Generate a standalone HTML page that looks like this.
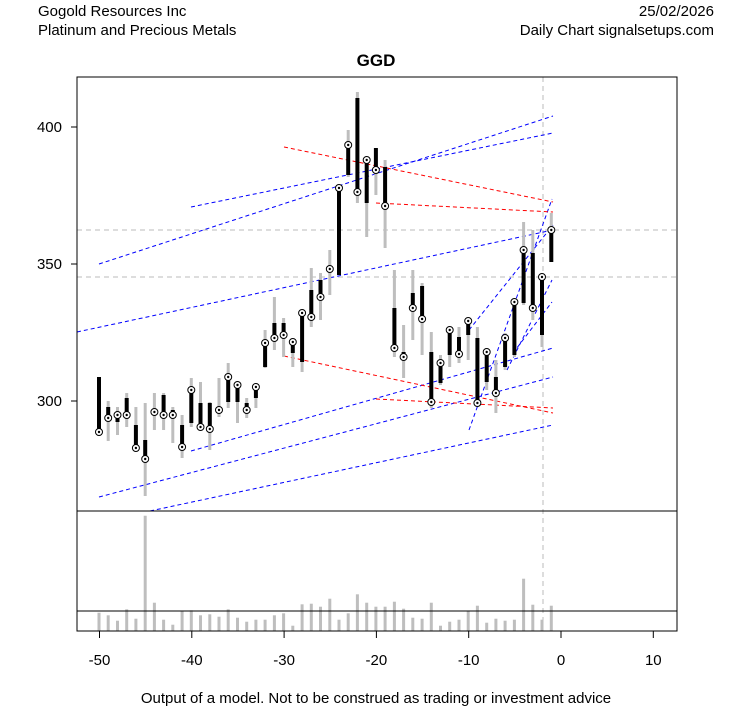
<!DOCTYPE html><html><head><style>body{margin:0;background:#fff}svg{display:block;font-family:"Liberation Sans",sans-serif}</style></head><body>
<svg id="s" width="753" height="708" xmlns="http://www.w3.org/2000/svg">
<rect width="753" height="708" fill="#fff"/>
<text x="38" y="16" font-size="15">Gogold Resources Inc</text>
<text x="38" y="35" font-size="15">Platinum and Precious Metals</text>
<text x="714" y="16" font-size="15" text-anchor="end">25/02/2026</text>
<text x="714" y="35" font-size="15" text-anchor="end">Daily Chart signalsetups.com</text>
<text x="376" y="66" font-size="17" font-weight="bold" text-anchor="middle">GGD</text>
<text x="376" y="703" font-size="15" text-anchor="middle">Output of a model. Not to be construed as trading or investment advice</text>
<g id="g"></g>
</svg>
<script>
var g=document.getElementById('g'),h='';
function L(x1,y1,x2,y2,c,w,d){h+='<line x1="'+x1+'" y1="'+y1+'" x2="'+x2+'" y2="'+y2+'" stroke="'+c+'" stroke-width="'+(w||1)+'"'+(d?' stroke-dasharray="'+d+'"':'')+'/>';}
// grid dashed
L(77,230,677,230,'#bbb',1,'5,4');L(77,277,677,277,'#bbb',1,'5,4');L(543,77,543,631,'#bbb',1,'5,4');
// lines
var B=[[77,332,553,230],[99,264,553,116],[191,207,553,133],[99,497,553,377],[191,451,553,348],[150,511,553,425],[469,430,552,199],[469,330,553,225],[507,370,552,280],[513,353,552,302]];
B.forEach(function(a){L(a[0],a[1],a[2],a[3],'#00f',1,'4,3');});
var R=[[284,147,553,202],[376,203,553,212],[284,356,553,413],[376,399,553,408]];
R.forEach(function(a){L(a[0],a[1],a[2],a[3],'#f00',1,'4,3');});
// candles: bodyTop, bodyBot, wickTop, wickBot, close
var C=[[377,433,377,436,432],[407,418,401,441,418],[413,422,407,435,415],[398,415,393,427,415],[425,448,407,448,448],[440,459,403,496,459],[410,414,393,430,412],[395,415,393,430,415],[410,415,407,443,415],[425,447,415,458,447],[390,423,378,427,390],[403,427,382,427,427],[403,429,402,450,429],[408,412,378,417,410],[377,402,363,408,377],[385,402,383,423,385],[403,410,398,418,410],[387,398,383,408,387],[343,367,330,368,343],[323,338,297,350,338],[323,335,318,357,335],[342,353,342,367,342],[313,362,313,372,313],[290,317,268,327,317],[280,297,273,320,297],[267,271,250,295,269],[188,275,188,275,188],[143,175,130,177,145],[98,192,92,203,192],[160,203,160,237,160],[148,170,148,195,170],[167,207,160,248,206],[308,348,270,357,348],[352,358,325,378,357],[293,308,270,340,308],[286,319,283,355,319],[352,402,332,408,402],[362,383,355,385,363],[328,355,327,367,330],[337,354,327,363,354],[320,335,320,360,321],[338,403,327,405,403],[352,382,348,390,352],[377,392,360,413,393],[337,367,333,370,338],[302,355,302,357,302],[250,303,222,305,250],[253,308,230,320,308],[277,335,275,347,277],[230,262,213,262,230]];
var V=[323,331,347,313,341,32,293,344,359,319,316,331,328,335,313,338,350,344,344,331,325,362,298,296,305,281,344,325,268,293,305,305,290,311,338,341,293,362,350,344,317,302,353,341,347,344,221,299,344,302];
for(var i=0;i<50;i++){var x=(99+i*9.23).toFixed(1),c=C[i];
L(x,c[2],x,c[3],'#bebebe',3);L(x,c[0],x,c[1],'#000',4);
h+='<circle cx="'+x+'" cy="'+c[4]+'" r="3.5" fill="#fff" stroke="#000"/><circle cx="'+x+'" cy="'+c[4]+'" r="1.2" fill="#000"/>';
L(x,631,x,(505+V[i]/3).toFixed(1),'#bebebe',3);}
// frames
h+='<rect x="77" y="77" width="600" height="554" fill="none" stroke="#000"/>';
L(77,511,677,511,'#000');L(77,611,677,611,'#000');
[400,350,300].forEach(function(v){var y=127+(400-v)*2.74;L(71,y,77,y,'#000');h+='<text x="62" y="'+(y+5)+'" font-size="15" text-anchor="end">'+v+'</text>';});
[-50,-40,-30,-20,-10,0,10].forEach(function(v){var x=561+v*9.23;L(x,631,x,638,'#000');h+='<text x="'+x+'" y="665" font-size="15" text-anchor="middle">'+v+'</text>';});
g.innerHTML=h;
</script>
</body></html>
